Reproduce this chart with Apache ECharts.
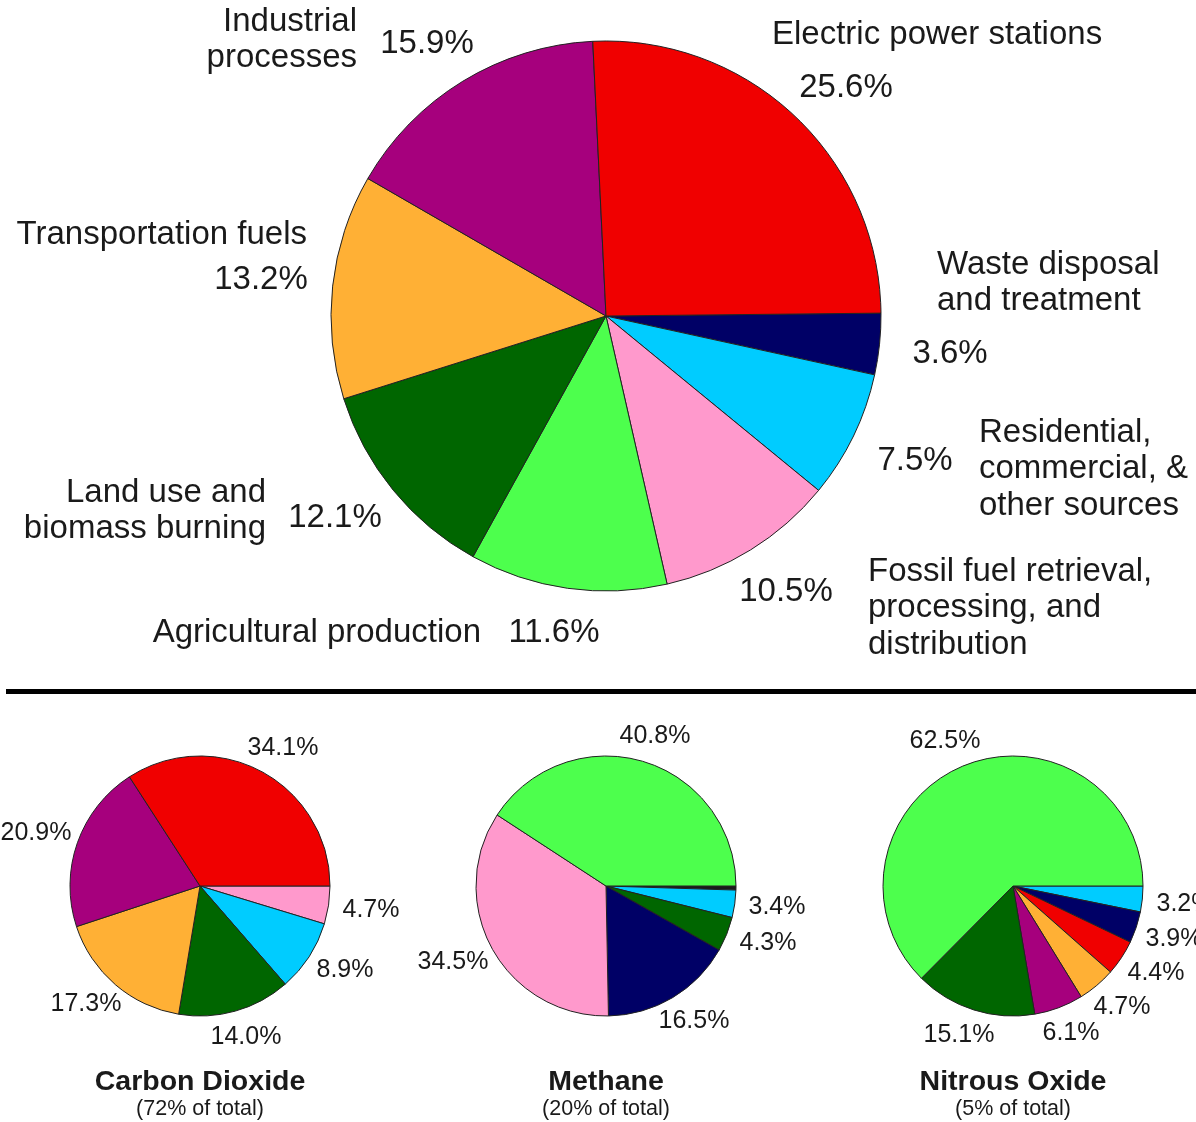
<!DOCTYPE html>
<html>
<head>
<meta charset="utf-8">
<script src="https://cdn.jsdelivr.net/npm/echarts@6/dist/echarts.min.js"></script>
<style>
  html, body { margin: 0; padding: 0; background: #ffffff; }
  #chart { width: 1196px; height: 1122px; }
</style>
</head>
<body>
<div id="chart"></div>
<script>
// ---------- DATA ----------
// sectors listed clockwise from the 3 o'clock position of the large pie
const sectorNames = [
  'Waste disposal and treatment',
  'Residential, commercial, & other sources',
  'Fossil fuel retrieval, processing, and distribution',
  'Agricultural production',
  'Land use and biomass burning',
  'Transportation fuels',
  'Industrial processes',
  'Electric power stations'
];
const sectorLabelText = [
  'Waste disposal\nand treatment',
  'Residential,\ncommercial, &\nother sources',
  'Fossil fuel retrieval,\nprocessing, and\ndistribution',
  'Agricultural production',
  'Land use and\nbiomass burning',
  'Transportation fuels',
  'Industrial\nprocesses',
  'Electric power stations'
];
const totalShares = [3.6, 7.5, 10.5, 11.6, 12.1, 13.2, 15.9, 25.6];

// gas pies: sector index (into sectorNames, -1 = other) and share, clockwise from 3 o'clock
const co2Sectors = [2, 1, 4, 5, 6, 7];
const co2Shares = [4.7, 8.9, 14.0, 17.3, 20.9, 34.1];
const ch4Sectors = [-1, 1, 4, 0, 2, 3];
const ch4Shares = [0.5, 3.4, 4.3, 16.5, 34.5, 40.8];
const n2oSectors = [1, 0, 7, 5, 6, 4, 3];
const n2oShares = [3.2, 3.9, 4.4, 4.7, 6.1, 15.1, 62.5];

const gasTitles = ['Carbon Dioxide', 'Methane', 'Nitrous Oxide'];
const gasSubtitles = ['(72% of total)', '(20% of total)', '(5% of total)'];

// ---------- STYLE / LAYOUT ----------
const sectorColors = ['#000066', '#00ccff', '#ff99cc', '#4dff4d', '#006600', '#ffb035', '#a6007d', '#f00000'];
const otherColor = '#1a1a1a';
const textColor = '#1a1a1a';
const FONT = '"Liberation Sans", Arial, Helvetica, sans-serif';

// name label anchors for main pie [x, y, align]
const nameLayout = [
  [937, 283, 'left'],
  [979, 469, 'left'],
  [868, 608, 'left'],
  [481, 633, 'right'],
  [266, 511, 'right'],
  [307, 235, 'right'],
  [357, 40, 'right'],
  [772, 35, 'left']
];
// percentage label centers
const mainPctPos = [[950, 354], [915, 461], [786, 592], [554, 633], [335, 518], [261, 280], [427, 44], [846, 88]];
const co2PctPos = [[371, 910], [345, 970], [246, 1037], [86, 1004], [36, 833], [283, 748]];
const ch4PctPos = [null, [777, 907], [768, 943], [694, 1021], [453, 962], [655, 736]];
const n2oPctPos = [[1185, 904], [1174, 939], [1156, 973], [1122, 1007], [1071, 1033], [959, 1035], [945, 741]];
const gasCenters = [[200, 886], [606, 886], [1013, 886]];

function colorOf(idx) { return idx < 0 ? otherColor : sectorColors[idx]; }
function nameOf(idx) { return idx < 0 ? 'Other' : sectorNames[idx]; }

function buildPie(sectorIdx, shares, center, radius, startAngle, posList, fontSize) {
  return {
    type: 'pie',
    center: center,
    radius: radius,
    startAngle: startAngle,
    clockwise: true,
    avoidLabelOverlap: false,
    animation: false,
    silent: true,
    data: shares.map((v, i) => ({
      name: nameOf(sectorIdx[i]),
      value: v,
      itemStyle: { color: colorOf(sectorIdx[i]) },
      label: { show: !!posList[i] }
    })),
    itemStyle: { borderColor: '#222222', borderWidth: 1 },
    label: {
      show: true,
      position: 'outside',
      formatter: p => p.value.toFixed(1) + '%',
      color: textColor,
      fontSize: fontSize,
      fontFamily: FONT
    },
    labelLine: { show: false },
    labelLayout: function (params) {
      const pos = posList[params.dataIndex];
      if (!pos) return {};
      return { x: pos[0], y: pos[1], align: 'center', verticalAlign: 'middle' };
    },
    emphasis: { disabled: true }
  };
}

const series = [
  buildPie(sectorNames.map((_, i) => i), totalShares, [606, 316], 275, 0.6, mainPctPos, 33),
  buildPie(co2Sectors, co2Shares, gasCenters[0], 130, 0, co2PctPos, 25),
  buildPie(ch4Sectors, ch4Shares, gasCenters[1], 130, 0, ch4PctPos, 25),
  buildPie(n2oSectors, n2oShares, gasCenters[2], 130, 0, n2oPctPos, 25)
];

const graphics = [];
sectorLabelText.forEach((t, i) => {
  const L = nameLayout[i];
  graphics.push({
    type: 'text', silent: true,
    style: {
      text: t, x: L[0], y: L[1], align: L[2], verticalAlign: 'middle',
      fontSize: 33, fontFamily: FONT, fill: textColor, lineHeight: 36.5
    }
  });
});
// divider
graphics.push({
  type: 'rect', silent: true,
  shape: { x: 6, y: 689, width: 1190, height: 5 },
  style: { fill: '#000000' }
});
gasTitles.forEach((t, i) => {
  graphics.push({
    type: 'text', silent: true,
    style: {
      text: t, x: gasCenters[i][0], y: 1082, align: 'center', verticalAlign: 'middle',
      fontSize: 28.5, fontWeight: 'bold', fontFamily: FONT, fill: textColor
    }
  });
  graphics.push({
    type: 'text', silent: true,
    style: {
      text: gasSubtitles[i], x: gasCenters[i][0], y: 1109, align: 'center', verticalAlign: 'middle',
      fontSize: 21.5, fontFamily: FONT, fill: textColor
    }
  });
});

const chart = echarts.init(document.getElementById('chart'), null, { renderer: 'canvas' });
chart.setOption({
  backgroundColor: '#ffffff',
  animation: false,
  series: series,
  graphic: graphics
});
</script>
</body>
</html>
